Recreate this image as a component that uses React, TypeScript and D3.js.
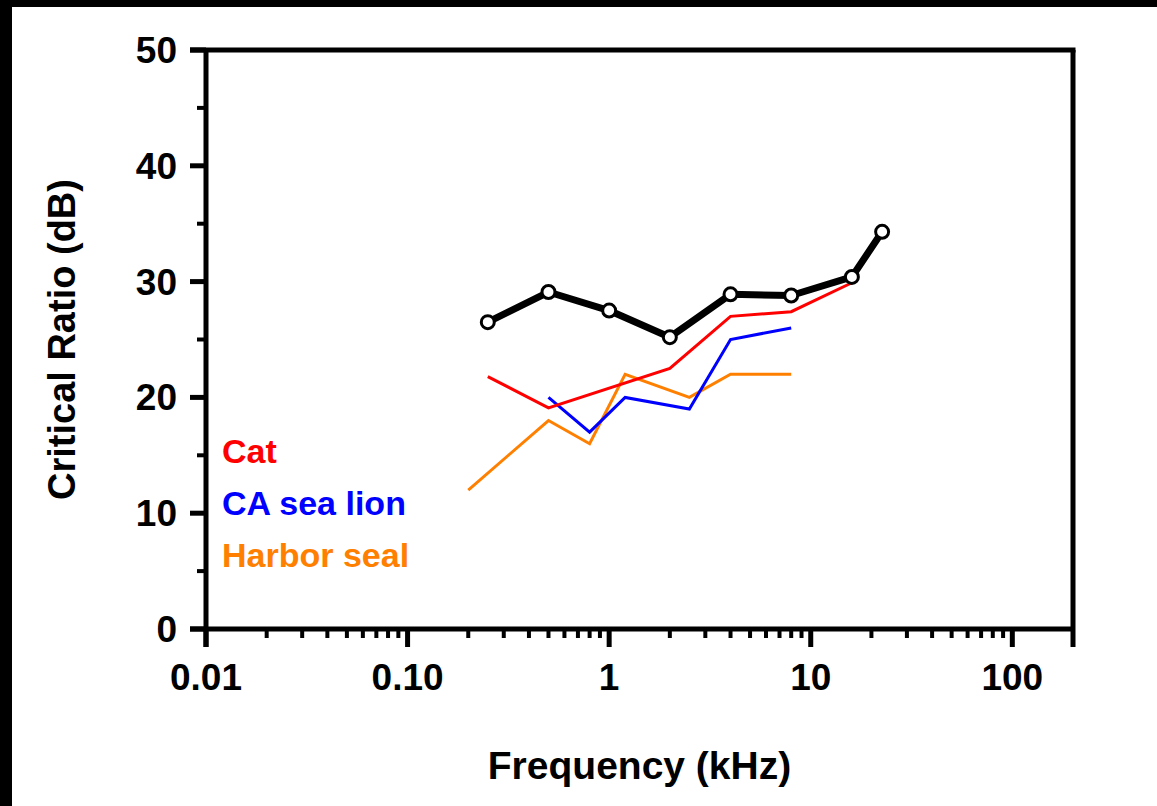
import React from "react";
import * as d3 from "d3";

const W = 1157;
const H = 806;

const humanFreq = [0.25, 0.5, 1, 2, 4, 8, 16, 22.6];
const humanCR = [26.5, 29.1, 27.5, 25.2, 28.9, 28.8, 30.4, 34.3];

const catFreq = [0.25, 0.5, 2, 4, 8, 16];
const catCR = [21.8, 19.1, 22.5, 27.0, 27.4, 29.9];

const seaLionFreq = [0.5, 0.8, 1.2, 2.5, 4, 8];
const seaLionCR = [20, 17, 20, 19, 25, 26];

const harborFreq = [0.2, 0.5, 0.8, 1.2, 2.5, 4, 8];
const harborCR = [12, 18, 16, 22, 20, 22, 22];

const xMajorTicks = [0.01, 0.1, 1, 10, 100];
const xTickLabels = ["0.01", "0.10", "1", "10", "100"];
const yMajorTicks = [0, 10, 20, 30, 40, 50];
const yMinorTicks = [5, 15, 25, 35, 45];

const legendItems = [
  { label: "Cat", color: "#ff0000" },
  { label: "CA sea lion", color: "#0000ff" },
  { label: "Harbor seal", color: "#ff8000" },
];

const FONT = "'Liberation Sans', Arial, Helvetica, sans-serif";

export default function App() {
  const x = d3.scaleLog().domain([0.01, 200]).range([206, 1073]);
  const y = d3.scaleLinear().domain([0, 50]).range([629, 50]);

  const xMinor: number[] = [];
  for (let e = -2; e <= 2; e++) {
    for (let m = 2; m <= 9; m++) {
      const v = m * Math.pow(10, e);
      if (v < 200) xMinor.push(v);
    }
  }

  const line = d3
    .line<[number, number]>()
    .x((d) => x(d[0]))
    .y((d) => y(d[1]));

  const zip = (a: number[], b: number[]) => a.map((v, i) => [v, b[i]] as [number, number]);

  const x0 = x(0.01);
  const x1 = x(200);
  const y0 = y(0);
  const y1 = y(50);

  return (
    <div style={{ position: "absolute", left: 0, top: 0 }}>
      <svg width={W} height={H} style={{ display: "block", background: "#fff" }}>
        <rect x={0} y={0} width={W} height={7} fill="#000" />
        <rect x={0} y={0} width={12} height={H} fill="#000" />

        {/* frame */}
        <line x1={190} x2={x1 + 2.5} y1={y1} y2={y1} stroke="#000" strokeWidth={5} />
        <line x1={x1} x2={x1} y1={y1} y2={647} stroke="#000" strokeWidth={5} />
        {/* y axis */}
        <line x1={x0} x2={x0} y1={y1} y2={647} stroke="#000" strokeWidth={5} />
        {/* x axis */}
        <line x1={190} x2={x1} y1={y0} y2={y0} stroke="#000" strokeWidth={5} />

        {xMinor.map((v) => (
          <line key={"xm" + v} x1={x(v)} x2={x(v)} y1={y0} y2={638} stroke="#000" strokeWidth={4} />
        ))}
        {xMajorTicks.map((v) => (
          <line key={"xM" + v} x1={x(v)} x2={x(v)} y1={y0} y2={647} stroke="#000" strokeWidth={5} />
        ))}
        {yMajorTicks.map((v) => (
          <line key={"yM" + v} x1={190} x2={x0} y1={y(v)} y2={y(v)} stroke="#000" strokeWidth={5} />
        ))}
        {yMinorTicks.map((v) => (
          <line key={"ym" + v} x1={197} x2={x0} y1={y(v)} y2={y(v)} stroke="#000" strokeWidth={4} />
        ))}

        {xMajorTicks.map((v, i) => (
          <text
            key={"xl" + v}
            x={x(v)}
            y={690}
            textAnchor="middle"
            fontFamily={FONT}
            fontWeight="bold"
            fontSize={37}
            fill="#000"
          >
            {xTickLabels[i]}
          </text>
        ))}
        {yMajorTicks.map((v) => (
          <text
            key={"yl" + v}
            x={177}
            y={y(v) + 13}
            textAnchor="end"
            fontFamily={FONT}
            fontWeight="bold"
            fontSize={37}
            fill="#000"
          >
            {v}
          </text>
        ))}

        <text
          x={(x0 + x1) / 2}
          y={779}
          textAnchor="middle"
          fontFamily={FONT}
          fontWeight="bold"
          fontSize={39}
          fill="#000"
        >
          Frequency (kHz)
        </text>
        <text
          transform={`translate(75, ${(y0 + y1) / 2}) rotate(-90)`}
          textAnchor="middle"
          fontFamily={FONT}
          fontWeight="bold"
          fontSize={38}
          fill="#000"
        >
          Critical Ratio (dB)
        </text>

        <path d={line(zip(harborFreq, harborCR)) || ""} fill="none" stroke="#ff8000" strokeWidth={3} />
        <path d={line(zip(seaLionFreq, seaLionCR)) || ""} fill="none" stroke="#0000ff" strokeWidth={3} />
        <path d={line(zip(catFreq, catCR)) || ""} fill="none" stroke="#ff0000" strokeWidth={3} />
        <path
          d={line(zip(humanFreq, humanCR)) || ""}
          fill="none"
          stroke="#000"
          strokeWidth={7}
          strokeLinejoin="round"
        />
        {humanFreq.map((f, i) => (
          <circle key={"c" + f} cx={x(f)} cy={y(humanCR[i])} r={6.5} fill="#fff" stroke="#000" strokeWidth={3} />
        ))}

        {legendItems.map((d, i) => (
          <text
            key={d.label}
            x={222}
            y={463 + i * 52}
            fontFamily={FONT}
            fontWeight="bold"
            fontSize={34}
            fill={d.color}
          >
            {d.label}
          </text>
        ))}
      </svg>
    </div>
  );
}
